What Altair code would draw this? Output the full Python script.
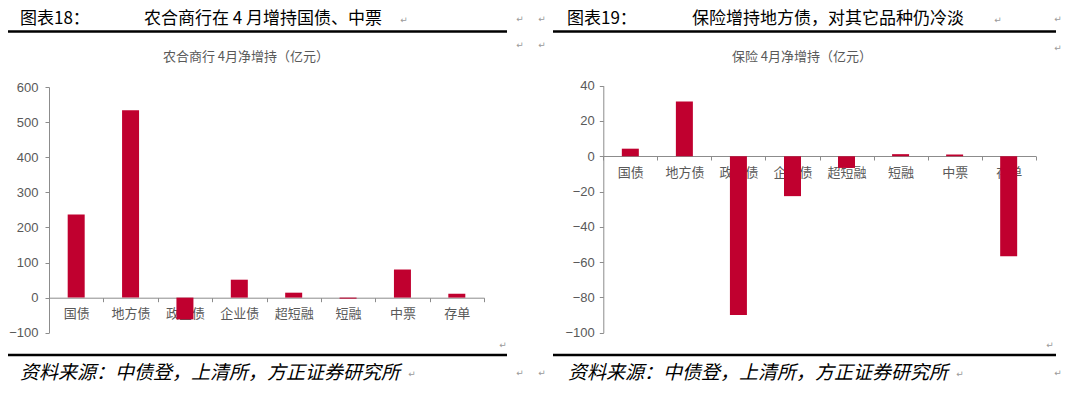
import altair as alt
import pandas as pd

# ---------------- data ----------------
categories = ["国债", "地方债", "政金债", "企业债", "超短融", "短融", "中票", "存单"]
rural_values = [237, 534, -62, 51, 14, -3, 80, 11]          # 农合商行 4月净增持（亿元）
insurance_values = [4.3, 31, -90, -22.6, -6.6, 1.2, 1.0, -56.6]  # 保险 4月净增持（亿元）

left_ticks = [-100, 0, 100, 200, 300, 400, 500, 600]
right_ticks = [-100, -80, -60, -40, -20, 0, 20, 40]

header_left_num = "图表18："
header_left_title = "农合商行在 4 月增持国债、中票"
header_right_num = "图表19："
header_right_title = "保险增持地方债，对其它品种仍冷淡"
subtitle_left = "农合商行 4月净增持（亿元）"
subtitle_right = "保险 4月净增持（亿元）"
source_text = "资料来源：中债登，上清所，方正证券研究所"
para_mark = "↵"

RED = "#C0002F"
AXIS_GRAY = "#8C8C8C"
LABEL_GRAY = "#595959"
CJK = "Noto Sans CJK SC"
W, H = 1064, 381

df_left = pd.DataFrame({"cat": categories, "val": rural_values})
df_right = pd.DataFrame({"cat": categories, "val": insurance_values})
one = pd.DataFrame({"k": [0]})


def bars(df, xr, yr, ydom, yticks, x_off, y_off, lab_pad):
    return alt.Chart(df).mark_bar(size=17, color=RED).encode(
        x=alt.X(
            "cat:N", sort=categories,
            scale=alt.Scale(range=xr, paddingInner=0, paddingOuter=0),
            axis=alt.Axis(orient="bottom", offset=x_off, title=None, labelAngle=0,
                          tickBand="extent", tickSize=4, labelPadding=6,
                          domainColor=AXIS_GRAY, tickColor=AXIS_GRAY,
                          labelColor=LABEL_GRAY, labelFont=CJK, labelFontSize=13,
                          grid=False),
        ),
        y=alt.Y(
            "val:Q",
            scale=alt.Scale(domain=ydom, range=yr, nice=False, zero=False),
            axis=alt.Axis(orient="left", offset=y_off, title=None, values=yticks,
                          tickSize=4, labelPadding=lab_pad,
                          domainColor=AXIS_GRAY, tickColor=AXIS_GRAY,
                          labelColor=LABEL_GRAY, labelFont="Liberation Sans",
                          labelFontSize=13, grid=False),
        ),
    )


left = bars(df_left, [41, 476], [324.7, 79], [-100, 600], left_ticks,
            -(H - 289.7), -41, 7)
right = bars(df_right, [595.3, 1027.7], [324.7, 77.7], [-100, 40], right_ticks,
             -(H - 148), -595.3, 5)


def txt(t, x, y, size, color="black", align="left", font=CJK, style="normal",
        baseline="middle"):
    return alt.Chart(one).mark_text(
        text=t, align=align, baseline=baseline, fontSize=size, color=color,
        font=font, fontStyle=style,
    ).encode(x=alt.value(x), y=alt.value(y))


def hline(x1, x2, y, w=2.5):
    return alt.Chart(one).mark_rule(color="black", strokeWidth=w).encode(
        x=alt.value(x1), x2=alt.value(x2), y=alt.value(y))


decor = [
    txt(header_left_num, 12, 16, 17, baseline="alphabetic"),
    txt(header_left_title, 136, 16, 17, baseline="alphabetic"),
    txt(header_right_num, 559, 16, 17, baseline="alphabetic"),
    txt(header_right_title, 684, 16, 17, baseline="alphabetic"),
    hline(0, 499, 23.5),
    hline(545, 1048, 23.5),
    txt(subtitle_left, 238, 49, 13, LABEL_GRAY, "center"),
    txt(subtitle_right, 794, 49, 13, LABEL_GRAY, "center"),
    hline(0, 499, 347),
    hline(545, 1048, 347),
    txt(source_text, 12, 365, 19, style="italic"),
    txt(source_text, 560, 365, 19, style="italic"),
]

marks_pos = [(396, 12), (990, 12), (512, 11), (512, 37), (534, 11), (534, 37),
             (1050, 11), (1050, 40), (495, 337), (512, 365), (404, 366),
             (1042, 337), (1050, 365), (534, 365), (952, 366)]
for (mx, my) in marks_pos:
    decor.append(txt(para_mark, mx, my, 9, "#9A9A9A", "center", "DejaVu Sans"))

chart = alt.layer(left, right, *decor).resolve_scale(
    x="independent", y="independent"
).properties(
    width=W, height=H, padding=0,
    autosize=alt.AutoSizeParams(type="none"),
).configure_view(stroke=None)

chart.save("out.html", embed_options={"renderer": "svg", "actions": False})
